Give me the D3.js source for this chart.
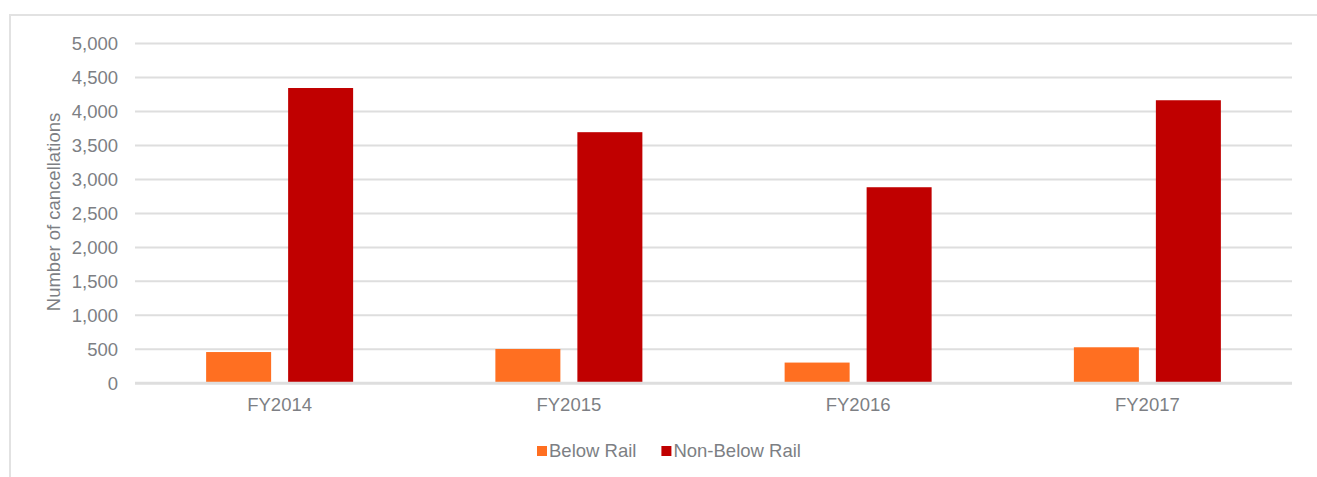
<!DOCTYPE html>
<html>
<head>
<meta charset="utf-8">
<script src="https://cdn.jsdelivr.net/npm/d3@7"></script>
<style>
  html, body { margin: 0; padding: 0; background: #ffffff; }
  svg { display: block; }
  text { font-family: "Liberation Sans", Arial, sans-serif; }
</style>
</head>
<body>
<svg id="chart" width="1317" height="477"></svg>
<script>
// Cancellations per financial year, split by type
const categories = ["FY2014", "FY2015", "FY2016", "FY2017"];
const seriesNames = ["Below Rail", "Non-Below Rail"];
const belowRail = [460, 505, 305, 530];
const nonBelowRail = [4345, 3695, 2885, 4165];
const yTicks = [0, 500, 1000, 1500, 2000, 2500, 3000, 3500, 4000, 4500, 5000];
const colors = ["#ff6f21", "#c00000"];

const svg = d3.select("#chart");
const W = 1317, H = 477;
const plot = { left: 135, right: 1292, top: 43.5, bottom: 383.3 };
const textColor = "#7d7f84";
const gridColor = "#dedede";
const fontSize = 18.5;

// outer frame (runs off the right and bottom edges)
svg.append("rect")
  .attr("x", 10).attr("y", 15)
  .attr("width", W).attr("height", H)
  .attr("fill", "none")
  .attr("stroke", "#e2e2e2")
  .attr("stroke-width", 2);

const y = d3.scaleLinear().domain([0, 5000]).range([plot.bottom, plot.top]);

const pad = 1 - 147 / 289.25;
const x0 = d3.scaleBand().domain(categories)
  .range([plot.left, plot.right])
  .paddingInner(pad).paddingOuter(pad / 2);

const x1 = d3.scaleBand().domain(seriesNames)
  .range([0, x0.bandwidth()])
  .paddingInner(17 / 82);

// gridlines
svg.append("g").selectAll("line")
  .data(yTicks.filter(d => d > 0))
  .join("line")
  .attr("x1", plot.left).attr("x2", plot.right)
  .attr("y1", d => y(d)).attr("y2", d => y(d))
  .attr("stroke", gridColor)
  .attr("stroke-width", 2);

// y axis tick labels
const yAxis = d3.axisLeft(y).tickValues(yTicks)
  .tickFormat(d3.format(",")).tickSize(0).tickPadding(0);
const gy = svg.append("g")
  .attr("transform", `translate(${plot.left - 17},0)`)
  .call(yAxis);
gy.select(".domain").remove();
gy.selectAll("text")
  .attr("fill", textColor)
  .attr("font-size", fontSize)
  .attr("font-family", "Liberation Sans, Arial, sans-serif");

// y axis title
svg.append("text")
  .attr("transform", "translate(60,212) rotate(-90)")
  .attr("text-anchor", "middle")
  .attr("fill", textColor)
  .attr("font-size", fontSize)
  .text("Number of cancellations");

// bars
const rows = categories.map((c, i) => ({
  cat: c,
  values: [
    { key: seriesNames[0], value: belowRail[i], color: colors[0] },
    { key: seriesNames[1], value: nonBelowRail[i], color: colors[1] }
  ]
}));

svg.append("g").selectAll("g")
  .data(rows)
  .join("g")
  .attr("transform", d => `translate(${x0(d.cat)},0)`)
  .selectAll("rect")
  .data(d => d.values)
  .join("rect")
  .attr("x", d => x1(d.key))
  .attr("width", x1.bandwidth())
  .attr("y", d => y(d.value))
  .attr("height", d => y(0) - y(d.value))
  .attr("fill", d => d.color);

// baseline
svg.append("line")
  .attr("x1", plot.left).attr("x2", plot.right)
  .attr("y1", y(0)).attr("y2", y(0))
  .attr("stroke", gridColor)
  .attr("stroke-width", 3);

// category labels
const xAxis = d3.axisBottom(x0).tickSize(0).tickPadding(0);
const gx = svg.append("g")
  .attr("transform", `translate(0,${plot.bottom + 15})`)
  .call(xAxis);
gx.select(".domain").remove();
gx.selectAll("text")
  .attr("fill", textColor)
  .attr("font-size", fontSize)
  .attr("font-family", "Liberation Sans, Arial, sans-serif");

// legend
const legend = svg.append("g").attr("transform", "translate(537,446)");
let lx = 0;
seriesNames.forEach((name, i) => {
  const item = legend.append("g").attr("transform", `translate(${lx},0)`);
  item.append("rect")
    .attr("width", 10).attr("height", 10)
    .attr("fill", colors[i]);
  const t = item.append("text")
    .attr("x", 12).attr("y", 11)
    .attr("fill", textColor)
    .attr("font-size", fontSize)
    .text(name);
  lx += 12 + t.node().getComputedTextLength() + 25;
});
</script>
</body>
</html>
